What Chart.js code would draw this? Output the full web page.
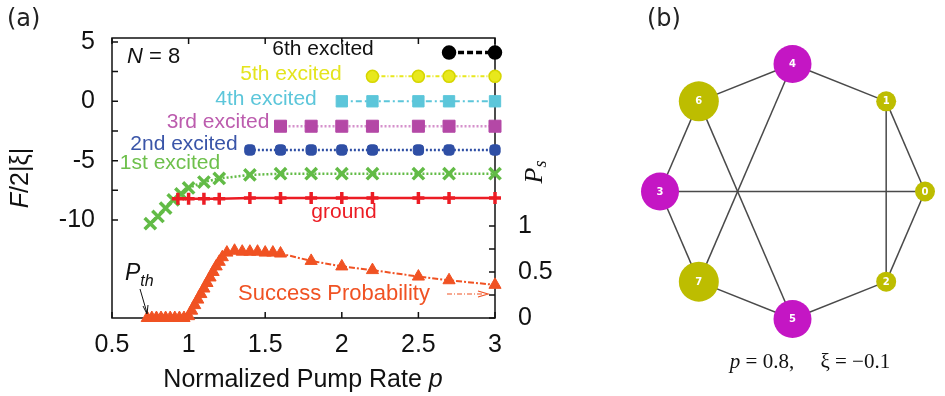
<!DOCTYPE html>
<html>
<head>
<meta charset="utf-8">
<script src="https://cdn.jsdelivr.net/npm/chart.js@4.4.1/dist/chart.umd.min.js"></script>
<style>
html, body { margin: 0; padding: 0; background: #fff; }
#wrap { position: relative; width: 945px; height: 396px; overflow: hidden; }
#chartA { position: absolute; left: 0; top: 0; }
#chartB { position: absolute; left: 640px; top: 0; }
</style>
</head>
<body>
<div id="wrap">
  <canvas id="chartA" width="560" height="396"></canvas>
  <canvas id="chartB" width="305" height="396"></canvas>
</div>
<script>
// --- panel (a): free energy levels vs pump rate ---
var xTicks = [0.5, 1, 1.5, 2, 2.5, 3];
var fTicks = [5, 2.5, 0, -2.5, -5, -7.5, -10];
var psTicks = [0, 0.25, 0.5, 0.75, 1];

var pGround = [0.93, 1.0, 1.1, 1.2, 1.4, 1.6, 1.8, 2.0, 2.2, 2.5, 2.7, 3.0];
var fGround = [-8.2, -8.2, -8.2, -8.2, -8.15, -8.15, -8.15, -8.15, -8.15, -8.15, -8.15, -8.15];

var pFirst = [0.75, 0.8, 0.85, 0.9, 0.95, 1.0, 1.1, 1.2, 1.4, 1.6, 1.8, 2.0, 2.2, 2.5, 2.7, 3.0];
var fFirst = [-10.3, -9.7, -9.0, -8.3, -7.8, -7.3, -6.8, -6.5, -6.2, -6.1, -6.1, -6.1, -6.1, -6.1, -6.1, -6.1];

var pSecond = [1.4, 1.6, 1.8, 2.0, 2.2, 2.5, 2.7, 3.0];
var fSecond = [-4.1, -4.1, -4.1, -4.1, -4.1, -4.1, -4.1, -4.1];

var pThird = [1.6, 1.8, 2.0, 2.2, 2.5, 2.7, 3.0];
var fThird = [-2.1, -2.1, -2.1, -2.1, -2.1, -2.1, -2.1];

var pFourth = [2.0, 2.2, 2.5, 2.7, 3.0];
var fFourth = [0, 0, 0, 0, 0];

var pFifth = [2.2, 2.5, 2.7, 3.0];
var fFifth = [2.1, 2.1, 2.1, 2.1];

var pSixth = [2.7, 3.0];
var fSixth = [4.1, 4.1];

var pSuccess = [0.73, 0.76, 0.79, 0.82, 0.85, 0.88, 0.91, 0.94, 0.97, 1.0,
                1.02, 1.04, 1.06, 1.08, 1.1, 1.12, 1.14, 1.16, 1.18, 1.2, 1.22, 1.25,
                1.3, 1.35, 1.4, 1.45, 1.5, 1.55, 1.6, 1.8, 2.0, 2.2, 2.5, 2.7, 3.0];
var psSuccess = [0, 0, 0, 0, 0, 0, 0, 0, 0, 0.02,
                 0.08, 0.14, 0.2, 0.26, 0.32, 0.38, 0.44, 0.5, 0.56, 0.61, 0.66, 0.71,
                 0.73, 0.72, 0.72, 0.72, 0.71, 0.71, 0.7, 0.62, 0.56, 0.52, 0.45, 0.41, 0.36];

var RED = '#ec1c24', GREEN = '#62bb46', BLUE = '#2f4fa5', MAGENTA = '#b448a6',
    CYAN = '#5cc6da', YELLOW = '#e8e81c', ORANGE = '#f05223';
var SANS = '"Liberation Sans", Arial, sans-serif';
var SERIF = '"Liberation Serif", "Times New Roman", serif';

function pts(xs, ys) {
    return xs.map(function(x, i) { return { x: x, y: ys[i] }; });
}

// draw text made of several runs (regular / italic / subscript)
function drawRuns(ctx, parts, x, y, align) {
    var w = 0;
    parts.forEach(function(p) { ctx.font = p[1]; w += ctx.measureText(p[0]).width; });
    var cx = align === 'center' ? x - w / 2 : x;
    ctx.textAlign = 'left';
    parts.forEach(function(p) {
        ctx.font = p[1];
        ctx.fillText(p[0], cx, y + (p[2] || 0));
        cx += ctx.measureText(p[0]).width;
    });
}

var frameA = {
    id: 'frameA',
    beforeDatasetsDraw: function(chart) {
        var ctx = chart.ctx, a = chart.chartArea;
        var sx = chart.scales.x, sy = chart.scales.y, sp = chart.scales.y1;
        ctx.save();
        ctx.strokeStyle = '#111';
        ctx.lineWidth = 1.5;
        ctx.strokeRect(a.left, a.top, a.right - a.left, a.bottom - a.top);
        ctx.beginPath();
        sx.ticks.forEach(function(t) {
            var px = sx.getPixelForValue(t.value);
            ctx.moveTo(px, a.bottom); ctx.lineTo(px, a.bottom - 6);
            ctx.moveTo(px, a.top); ctx.lineTo(px, a.top + 6);
        });
        sy.ticks.forEach(function(t) {
            var py = sy.getPixelForValue(t.value);
            ctx.moveTo(a.left, py); ctx.lineTo(a.left + 6, py);
        });
        sp.ticks.forEach(function(t) {
            var py = sp.getPixelForValue(t.value);
            ctx.moveTo(a.right, py); ctx.lineTo(a.right - 6, py);
        });
        ctx.stroke();
        ctx.restore();
    },
    afterDraw: function(chart) {
        var ctx = chart.ctx;
        ctx.save();
        ctx.textBaseline = 'middle';

        // panel tag
        ctx.fillStyle = '#222';
        ctx.font = '24px "DejaVu Sans", sans-serif';
        ctx.textAlign = 'left';
        ctx.fillText('(a)', 7, 20);

        // axis titles
        ctx.fillStyle = '#111';
        drawRuns(ctx, [['Normalized Pump Rate ', '25px ' + SANS], ['p', 'italic 25px ' + SANS]], 303, 380, 'center');

        ctx.save();
        ctx.translate(21, 178);
        ctx.rotate(-Math.PI / 2);
        drawRuns(ctx, [['F', 'italic 25px ' + SANS], ['/2|ξ|', '25px ' + SANS]], 0, 0, 'center');
        ctx.restore();

        ctx.save();
        ctx.translate(535, 172);
        ctx.rotate(-Math.PI / 2);
        drawRuns(ctx, [['P', 'italic 26px ' + SERIF], ['s', 'italic 18px ' + SERIF, 6]], 0, 0, 'center');
        ctx.restore();

        // level labels
        drawRuns(ctx, [['N', 'italic 22px ' + SANS], [' = 8', '22px ' + SANS]], 127, 57, 'left');
        var labels = [
            ['6th excited', '#111', 323, 49],
            ['5th excited', '#e4e41e', 291, 74],
            ['4th excited', CYAN, 266, 99],
            ['3rd excited', '#bc5cae', 218, 122],
            ['2nd excited', '#3a55a8', 184, 144],
            ['1st excited', '#6ec04c', 170, 163],
            ['ground', RED, 344, 212]
        ];
        ctx.font = '21px ' + SANS;
        ctx.textAlign = 'center';
        labels.forEach(function(l) {
            ctx.fillStyle = l[1];
            ctx.fillText(l[0], l[2], l[3]);
        });
        ctx.fillStyle = ORANGE;
        ctx.font = '22px ' + SANS;
        ctx.fillText('Success Probability', 334, 294);

        // small dash-dot arrow after the label
        ctx.strokeStyle = ORANGE;
        ctx.lineWidth = 1.2;
        ctx.setLineDash([5, 2, 1, 2]);
        ctx.beginPath(); ctx.moveTo(447, 294); ctx.lineTo(484, 294); ctx.stroke();
        ctx.setLineDash([]);
        ctx.beginPath(); ctx.moveTo(478, 291); ctx.lineTo(488, 294); ctx.lineTo(478, 297); ctx.stroke();

        // P_th with arrow
        ctx.fillStyle = '#111';
        drawRuns(ctx, [['P', 'italic 23px ' + SANS], ['th', 'italic 16px ' + SANS, 8]], 125, 274, 'left');
        ctx.strokeStyle = '#111';
        ctx.lineWidth = 1;
        ctx.beginPath(); ctx.moveTo(140, 289); ctx.lineTo(147, 313); ctx.stroke();
        ctx.beginPath(); ctx.moveTo(143, 306); ctx.lineTo(147, 314); ctx.lineTo(148, 305); ctx.stroke();
        ctx.restore();
    }
};

function fixedTicks(values) {
    return function(axis) {
        axis.ticks = values.map(function(v) { return { value: v }; });
    };
}

new Chart(document.getElementById('chartA').getContext('2d'), {
    type: 'scatter',
    data: {
        datasets: [
            { label: 'ground', data: pts(pGround, fGround), yAxisID: 'y', showLine: true,
              borderColor: RED, backgroundColor: RED, borderWidth: 2.5,
              pointStyle: 'cross', pointRadius: 6, pointBorderWidth: 3.5, clip: false },
            { label: '1st excited', data: pts(pFirst, fFirst), yAxisID: 'y', showLine: true,
              borderColor: GREEN, backgroundColor: GREEN, borderWidth: 2.5, borderDash: [2, 2],
              pointStyle: 'crossRot', pointRadius: 8, pointBorderWidth: 3.5, clip: false },
            { label: '2nd excited', data: pts(pSecond, fSecond), yAxisID: 'y', showLine: true,
              borderColor: BLUE, backgroundColor: BLUE, borderWidth: 2.5, borderDash: [2, 2],
              pointStyle: 'rectRounded', pointRadius: 6, pointBorderWidth: 1, clip: false },
            { label: '3rd excited', data: pts(pThird, fThird), yAxisID: 'y', showLine: true,
              borderColor: '#d591cc', backgroundColor: MAGENTA, pointBorderColor: MAGENTA, borderWidth: 2.5, borderDash: [2, 2],
              pointStyle: 'rect', pointRadius: 8.5, pointBorderWidth: 1, clip: false },
            { label: '4th excited', data: pts(pFourth, fFourth), yAxisID: 'y', showLine: true,
              borderColor: CYAN, backgroundColor: CYAN, borderWidth: 2, borderDash: [6, 3, 2, 3],
              pointStyle: 'rect', pointRadius: 8, pointBorderWidth: 1, clip: false },
            { label: '5th excited', data: pts(pFifth, fFifth), yAxisID: 'y', showLine: true,
              borderColor: YELLOW, backgroundColor: YELLOW, pointBorderColor: '#d6d600', borderWidth: 2, borderDash: [4, 2, 1, 2],
              pointStyle: 'circle', pointRadius: 6, pointBorderWidth: 1.5, clip: false },
            { label: '6th excited', data: pts(pSixth, fSixth), yAxisID: 'y', showLine: true,
              borderColor: '#000', backgroundColor: '#000', borderWidth: 3.5, borderDash: [6, 3],
              pointStyle: 'circle', pointRadius: 5.5, clip: false },
            { label: 'Success Probability', data: pts(pSuccess, psSuccess), yAxisID: 'y1', showLine: true,
              borderColor: ORANGE, backgroundColor: ORANGE, borderWidth: 2, borderDash: [6, 2, 2, 2],
              pointStyle: 'triangle', pointRadius: 7, pointBorderWidth: 1, clip: false }
        ]
    },
    options: {
        responsive: false,
        animation: false,
        layout: { padding: { top: 35, left: 0, right: 0, bottom: 0 } },
        plugins: { legend: { display: false }, tooltip: { enabled: false } },
        scales: {
            x: {
                type: 'linear', min: 0.5, max: 3,
                afterBuildTicks: fixedTicks(xTicks),
                afterFit: function(s) { s.height = 78; },
                grid: { display: false, drawTicks: false },
                border: { display: false },
                ticks: { font: { family: SANS, size: 25 }, color: '#111', padding: 12, autoSkip: false, maxRotation: 0,
                         callback: function(v) { return String(v); } }
            },
            y: {
                type: 'linear', position: 'left', min: -18.25, max: 5.33,
                afterBuildTicks: fixedTicks(fTicks),
                afterFit: function(s) { s.width = 112; },
                grid: { display: false, drawTicks: false },
                border: { display: false },
                ticks: { font: { family: SANS, size: 25 }, color: '#111', padding: 17, autoSkip: false,
                         callback: function(v) { return v % 5 === 0 ? String(v) : ''; } }
            },
            y1: {
                type: 'linear', position: 'right', min: 0, max: 3.04,
                afterBuildTicks: fixedTicks(psTicks),
                afterFit: function(s) { s.width = 65; },
                grid: { display: false, drawTicks: false },
                border: { display: false },
                ticks: { font: { family: SANS, size: 25 }, color: '#111', padding: 23, autoSkip: false,
                         callback: function(v) { return (v * 2) % 1 === 0 ? String(v) : ''; } }
            }
        }
    },
    plugins: [frameA]
});

// --- panel (b): spin configuration graph ---
var nodeIds = ['0', '1', '2', '3', '4', '5', '6', '7'];
var nodeX = [1, 0.707, 0.707, -1, 0, 0, -0.707, -0.707];
var nodeY = [0, 0.707, -0.707, 0, 1, -1, 0.707, -0.707];
var nodeRadius = [10, 10, 10, 19, 19, 19, 20, 20];
var nodeSpin = [1, 1, 1, -1, -1, -1, 1, 1];
var edges = [[6, 4], [4, 1], [6, 3], [6, 5], [4, 7], [1, 0], [1, 2], [3, 0], [3, 7], [7, 5], [5, 2], [2, 0]];

var OLIVE = '#bdbd00', PURPLE = '#c416c4';

var nodeLabels = {
    id: 'nodeLabels',
    afterDraw: function(chart) {
        var ctx = chart.ctx;
        var sx = chart.scales.x, sy = chart.scales.y;
        ctx.save();
        ctx.fillStyle = '#fff';
        ctx.font = 'bold 10px "DejaVu Sans", sans-serif';
        ctx.textAlign = 'center';
        ctx.textBaseline = 'middle';
        nodeIds.forEach(function(id, i) {
            ctx.fillText(id, sx.getPixelForValue(nodeX[i]), sy.getPixelForValue(nodeY[i]) + 0.5);
        });

        ctx.fillStyle = '#222';
        ctx.font = '24px "DejaVu Sans", sans-serif';
        ctx.textAlign = 'left';
        ctx.fillText('(b)', 7, 20);

        ctx.fillStyle = '#111';
        ctx.textBaseline = 'alphabetic';
        drawRuns(ctx, [['p', 'italic 21px ' + SERIF], [' = 0.8,', '21px ' + SERIF], ['     ξ = −0.1', '21px ' + SERIF]], 170, 368, 'center');
        ctx.restore();
    }
};

var edgeSets = edges.map(function(e) {
    return {
        data: [{ x: nodeX[e[0]], y: nodeY[e[0]] }, { x: nodeX[e[1]], y: nodeY[e[1]] }],
        showLine: true, borderColor: '#4a4a4a', borderWidth: 1.5, pointRadius: 0, clip: false
    };
});

new Chart(document.getElementById('chartB').getContext('2d'), {
    type: 'scatter',
    data: {
        datasets: [{
            data: pts(nodeX, nodeY),
            pointRadius: nodeRadius,
            backgroundColor: nodeSpin.map(function(s) { return s > 0 ? OLIVE : PURPLE; }),
            borderColor: nodeSpin.map(function(s) { return s > 0 ? OLIVE : PURPLE; }),
            pointBorderWidth: 0,
            clip: false
        }].concat(edgeSets)
    },
    options: {
        responsive: false,
        animation: false,
        layout: { padding: { top: 64, left: 19, right: 2, bottom: 77 } },
        plugins: { legend: { display: false }, tooltip: { enabled: false } },
        scales: {
            x: { type: 'linear', min: -1, max: 1, display: false },
            y: { type: 'linear', min: -1, max: 1, display: false }
        }
    },
    plugins: [nodeLabels]
});
</script>
</body>
</html>
